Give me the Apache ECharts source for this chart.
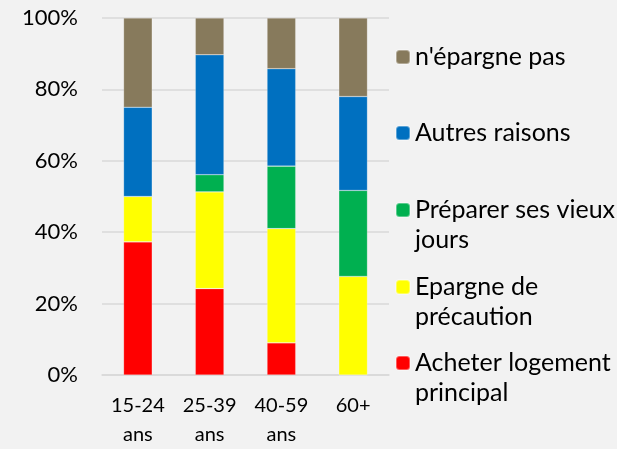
<!DOCTYPE html>
<html>
<head>
<meta charset="utf-8">
<script src="https://cdn.jsdelivr.net/npm/echarts@6/dist/echarts.min.js"></script>
<style>
  html, body { margin: 0; padding: 0; background: #f2f2f2; }
  #main { width: 617px; height: 449px; }
</style>
</head>
<body>
<div id="main"></div>
<script>
// tranches d'âge
var categories = ['15-24\nans', '25-39\nans', '40-59\nans', '60+']
// parts en %, du bas vers le haut de la pile
var logement = [37.3, 24.2, 9.0, 0]
var precaution = [12.7, 27.1, 32.0, 27.6]
var vieuxJours = [0, 4.8, 17.5, 24.1]
var autres = [25.0, 33.6, 27.3, 26.3]
var nEpargnePas = [25.0, 10.3, 14.2, 22.0]

var font = 'Lato, "Open Sans", sans-serif'

function serie (name, data, color) {
  return {
    name: name,
    type: 'bar',
    stack: 'total',
    barWidth: '40%',
    data: data,
    itemStyle: { color: color, borderColor: 'rgba(255,255,255,0.35)', borderWidth: 0.6 }
  }
}

// une légende par entrée ; ligne vide en tête pour que le carré
// tombe sur la première ligne des libellés sur deux lignes
function legende (name, label, top) {
  return {
    orient: 'vertical',
    left: 395,
    top: top,
    padding: 0,
    itemWidth: 14,
    itemHeight: 14,
    itemGap: 0,
    selectedMode: false,
    data: [name],
    formatter: function () { return label },
    textStyle: {
      fontFamily: font,
      fontSize: 25,
      lineHeight: 30,
      color: '#000'
    }
  }
}

var chart = echarts.init(document.getElementById('main'))
chart.setOption({
  backgroundColor: '#f2f2f2',
  animation: false,
  grid: { left: 102, right: 228, top: 18, bottom: 74 },
  legend: [
    legende("n'épargne pas", "n'épargne pas", 42),
    legende('Autres raisons', 'Autres raisons', 118),
    legende('Préparer ses vieux jours', ' \nPréparer ses vieux\njours', 165),
    legende('Epargne de précaution', ' \nEpargne de\nprécaution', 242),
    legende('Acheter logement principal', ' \nAcheter logement\nprincipal', 318)
  ],
  xAxis: {
    type: 'category',
    data: categories,
    axisLine: { lineStyle: { color: '#d9d9d9', width: 1.5 } },
    axisTick: { show: false },
    axisLabel: {
      interval: 0,
      fontFamily: font,
      fontSize: 20,
      lineHeight: 29,
      color: '#000',
      margin: 16
    }
  },
  yAxis: {
    type: 'value',
    min: 0,
    max: 100,
    interval: 20,
    axisLine: { show: false },
    axisTick: { show: false },
    axisLabel: {
      formatter: '{value}%',
      fontFamily: font,
      fontSize: 22,
      color: '#000',
      margin: 24
    },
    splitLine: { lineStyle: { color: '#d9d9d9', width: 1.5 } }
  },
  series: [
    serie('Acheter logement principal', logement, '#ff0000'),
    serie('Epargne de précaution', precaution, '#ffff00'),
    serie('Préparer ses vieux jours', vieuxJours, '#00b050'),
    serie('Autres raisons', autres, '#0070c0'),
    serie("n'épargne pas", nEpargnePas, '#877a5c')
  ]
})
</script>
</body>
</html>
